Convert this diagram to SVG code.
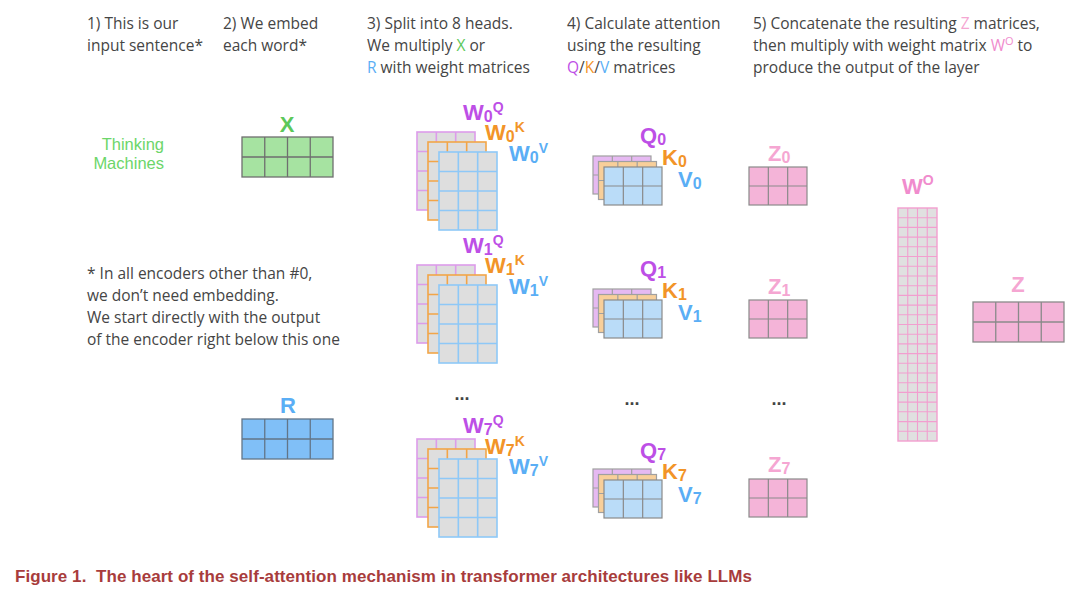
<svg xmlns="http://www.w3.org/2000/svg" xmlns:xlink="http://www.w3.org/1999/xlink" width="1088" height="589" viewBox="0 0 1088 589">
<style>
.hd{font-family:"Open Sans","Liberation Sans",sans-serif;font-size:15.5px;fill:#454545}
.lab{font-family:"Liberation Sans",Arial,sans-serif;font-weight:bold;font-size:22px}
.sub{font-size:16px}
.sup{font-size:14px}
.p{fill:#bd4fe6}.o{fill:#f29428}.b{fill:#5aaef5}.g{fill:#5cc85a}.k{fill:#f5a6d2}.ko{fill:#f08ccd}
.dots{font-family:"Liberation Sans",Arial,sans-serif;font-weight:bold;font-size:18px;fill:#444;text-anchor:middle}
.thk{font-family:"Liberation Sans",Arial,sans-serif;font-size:16.5px;fill:#6cd66a;text-anchor:end}
.cap{font-family:"Liberation Sans",Arial,sans-serif;font-weight:bold;font-size:17px;fill:#a83c3c}
.gl{fill:none}
</style>
<defs>
<g id="wm"><rect width="58" height="78"/><path class="gl" d="M19.33 0V78M38.67 0V78M0 19.5H58M0 39H58M0 58.5H58"/></g>
<g id="qm"><rect width="58" height="38"/><path class="gl" d="M19.33 0V38M38.67 0V38M0 19H58"/></g>
<g id="xm"><rect width="91" height="40"/><path class="gl" d="M22.75 0V40M45.5 0V40M68.25 0V40M0 20H91"/></g>
<g id="wstack">
<use xlink:href="#wm" x="0" y="0" fill="#dedede" stroke="#dc9cea" stroke-width="1.6"/>
<use xlink:href="#wm" x="11" y="10" fill="#dedede" stroke="#f2a548" stroke-width="1.6"/>
<use xlink:href="#wm" x="22" y="20" fill="#dedede" stroke="#8ec8f7" stroke-width="1.6"/>
</g>
<g id="qstack">
<use xlink:href="#qm" x="0" y="0" fill="#e6b9f2" stroke="#a0a0a0" stroke-width="1.2"/>
<use xlink:href="#qm" x="5.5" y="5.5" fill="#f8cf9a" stroke="#a0a0a0" stroke-width="1.2"/>
<use xlink:href="#qm" x="11" y="11" fill="#badcf8" stroke="#8a8a8a" stroke-width="1.2"/>
</g>
</defs>

<g id="header">
<text class="hd" x="87" y="29">1) This is our</text>
<text class="hd" x="87" y="51">input sentence*</text>
<text class="hd" x="223" y="29">2) We embed</text>
<text class="hd" x="223" y="51">each word*</text>
<text class="hd" x="367" y="29">3) Split into 8 heads.</text>
<text class="hd" x="367" y="51">We multiply <tspan class="g">X</tspan> or</text>
<text class="hd" x="367" y="73"><tspan class="b">R</tspan> with weight matrices</text>
<text class="hd" x="567" y="29">4) Calculate attention</text>
<text class="hd" x="567" y="51">using the resulting</text>
<text class="hd" x="567" y="73"><tspan class="p">Q</tspan>/<tspan class="o">K</tspan>/<tspan class="b">V</tspan> matrices</text>
<text class="hd" x="753" y="29">5) Concatenate the resulting <tspan class="k">Z</tspan> matrices,</text>
<text class="hd" x="753" y="51">then multiply with weight matrix <tspan class="ko">W</tspan><tspan class="ko" font-size="11" dy="-6">O</tspan><tspan dy="6"> to</tspan></text>
<text class="hd" x="753" y="73">produce the output of the layer</text>
</g>

<g id="input">
<text class="thk" x="164" y="150">Thinking</text>
<text class="thk" x="164" y="169">Machines</text>
</g>

<g id="X">
<text class="lab g" x="287" y="132" text-anchor="middle" font-size="21">X</text>
<use xlink:href="#xm" x="242" y="137" fill="#a6e3a1" stroke="#6f6f6f" stroke-width="1.3"/>
</g>

<g id="note">
<text class="hd" x="87" y="279">* In all encoders other than #0,</text>
<text class="hd" x="87" y="301">we don’t need embedding.</text>
<text class="hd" x="87" y="323">We start directly with the output</text>
<text class="hd" x="87" y="345">of the encoder right below this one</text>
</g>

<g id="R">
<text class="lab b" x="288" y="413" text-anchor="middle" font-size="21" fill="#7ab9f5">R</text>
<use xlink:href="#xm" x="242" y="419" fill="#80bff7" stroke="#627588" stroke-width="1.3"/>
</g>

<!-- head 0 -->
<g id="W0">
<use xlink:href="#wstack" x="417" y="132"/>
<text class="lab p"><tspan x="463" y="120">W</tspan><tspan class="sub" y="122">0</tspan><tspan class="sup" y="112">Q</tspan></text>
<text class="lab o"><tspan x="485" y="140">W</tspan><tspan class="sub" y="142">0</tspan><tspan class="sup" y="132">K</tspan></text>
<text class="lab b"><tspan x="509" y="161">W</tspan><tspan class="sub" y="163">0</tspan><tspan class="sup" y="153">V</tspan></text>
</g>
<g id="QKV0">
<use xlink:href="#qstack" x="593" y="156"/>
<text class="lab p"><tspan x="640" y="143">Q</tspan><tspan class="sub" y="145">0</tspan></text>
<text class="lab o"><tspan x="662" y="165">K</tspan><tspan class="sub" y="167">0</tspan></text>
<text class="lab b"><tspan x="678" y="187">V</tspan><tspan class="sub" y="189">0</tspan></text>
</g>
<g id="Z0">
<text class="lab k"><tspan x="768" y="161">Z</tspan><tspan class="sub" y="163">0</tspan></text>
<use xlink:href="#qm" x="749" y="167" fill="#f4b4d8" stroke="#8a8a8a" stroke-width="1.2"/>
</g>

<!-- head 1 -->
<g id="W1">
<use xlink:href="#wstack" x="417" y="265"/>
<text class="lab p"><tspan x="463" y="253">W</tspan><tspan class="sub" y="255">1</tspan><tspan class="sup" y="245">Q</tspan></text>
<text class="lab o"><tspan x="485" y="273">W</tspan><tspan class="sub" y="275">1</tspan><tspan class="sup" y="265">K</tspan></text>
<text class="lab b"><tspan x="509" y="294">W</tspan><tspan class="sub" y="296">1</tspan><tspan class="sup" y="286">V</tspan></text>
</g>
<g id="QKV1">
<use xlink:href="#qstack" x="593" y="289"/>
<text class="lab p"><tspan x="640" y="276">Q</tspan><tspan class="sub" y="278">1</tspan></text>
<text class="lab o"><tspan x="662" y="298">K</tspan><tspan class="sub" y="300">1</tspan></text>
<text class="lab b"><tspan x="678" y="320">V</tspan><tspan class="sub" y="322">1</tspan></text>
</g>
<g id="Z1">
<text class="lab k"><tspan x="768" y="294">Z</tspan><tspan class="sub" y="296">1</tspan></text>
<use xlink:href="#qm" x="749" y="300" fill="#f4b4d8" stroke="#8a8a8a" stroke-width="1.2"/>
</g>

<g id="ellipses">
<text class="dots" x="462" y="400">...</text>
<text class="dots" x="632" y="405">...</text>
<text class="dots" x="779" y="405">...</text>
</g>

<!-- head 7 -->
<g id="W7">
<use xlink:href="#wstack" x="417" y="439"/>
<text class="lab p"><tspan x="463" y="433">W</tspan><tspan class="sub" y="435">7</tspan><tspan class="sup" y="425">Q</tspan></text>
<text class="lab o"><tspan x="485" y="454">W</tspan><tspan class="sub" y="456">7</tspan><tspan class="sup" y="446">K</tspan></text>
<text class="lab b"><tspan x="509" y="474">W</tspan><tspan class="sub" y="476">7</tspan><tspan class="sup" y="466">V</tspan></text>
</g>
<g id="QKV7">
<use xlink:href="#qstack" x="593" y="469"/>
<text class="lab p"><tspan x="640" y="458">Q</tspan><tspan class="sub" y="460">7</tspan></text>
<text class="lab o"><tspan x="662" y="479">K</tspan><tspan class="sub" y="481">7</tspan></text>
<text class="lab b"><tspan x="678" y="502">V</tspan><tspan class="sub" y="504">7</tspan></text>
</g>
<g id="Z7">
<text class="lab k"><tspan x="768" y="472">Z</tspan><tspan class="sub" y="474">7</tspan></text>
<use xlink:href="#qm" x="749" y="479" fill="#f4b4d8" stroke="#8a8a8a" stroke-width="1.2"/>
</g>

<g id="WO">
<text class="lab ko"><tspan x="902" y="194">W</tspan><tspan class="sup" y="185" font-size="15">O</tspan></text>
<rect x="898" y="208" width="39" height="233" fill="#e0e0e0" stroke="#f29ecf" stroke-width="1.4"/>
<path fill="none" stroke="#f29ecf" stroke-width="1.1" d="M907.75 208V441M917.5 208V441M927.25 208V441
M898 217.7H937M898 227.4H937M898 237.1H937M898 246.8H937M898 256.5H937M898 266.3H937M898 276H937M898 285.7H937M898 295.4H937M898 305.1H937M898 314.8H937M898 324.5H937M898 334.2H937M898 343.9H937M898 353.6H937M898 363.3H937M898 373H937M898 382.7H937M898 392.4H937M898 402.1H937M898 411.8H937M898 421.6H937M898 431.3H937"/>
</g>

<g id="Z">
<text class="lab k" x="1018" y="292" text-anchor="middle">Z</text>
<use xlink:href="#xm" x="973" y="302" fill="#f4b4d8" stroke="#8a8a8a" stroke-width="1.3"/>
</g>

<g id="connectors"></g>

<text class="cap" x="15" y="582" textLength="737" lengthAdjust="spacing">Figure 1.&#160; The heart of the self-attention mechanism in transformer architectures like LLMs</text>
</svg>
